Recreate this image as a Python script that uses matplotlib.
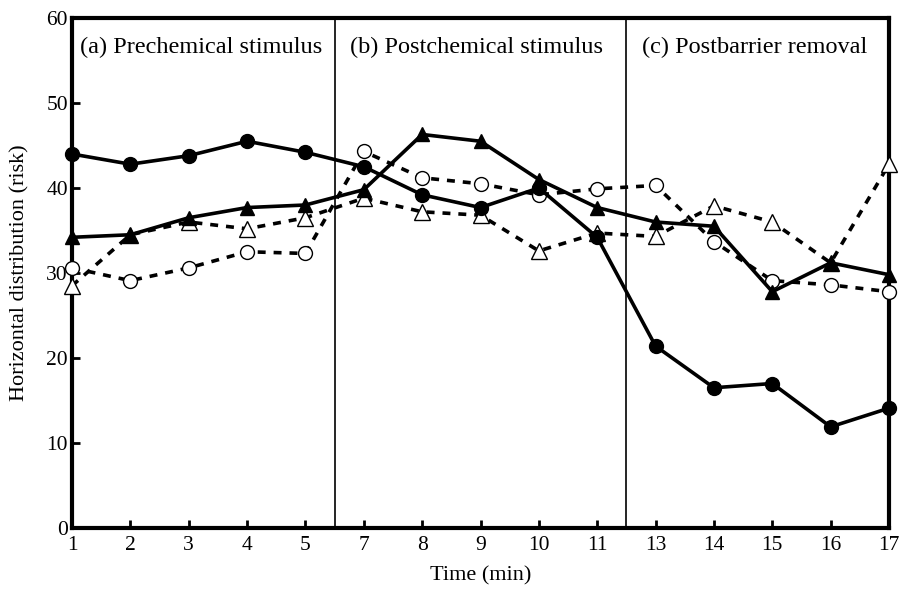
import matplotlib.pyplot as plt

plt.rcParams['font.family'] = ['Liberation Serif', 'DejaVu Serif']

minutes = [1, 2, 3, 4, 5, 7, 8, 9, 10, 11, 13, 14, 15, 16, 17]
filled_circle = [44.0, 42.8, 43.8, 45.5, 44.2, 42.5, 39.2, 37.7, 40.0, 34.2, 21.4, 16.5, 17.0, 11.9, 14.1]
filled_tri = [34.2, 34.5, 36.5, 37.7, 38.0, 39.8, 46.3, 45.5, 41.0, 37.7, 36.0, 35.5, 27.8, 31.2, 29.8]
open_circle = [30.6, 29.1, 30.6, 32.5, 32.3, 44.3, 41.2, 40.5, 39.2, 39.9, 40.3, 33.7, 29.1, 28.6, 27.8]
open_tri = [28.5, 34.5, 36.0, 35.2, 36.5, 38.8, 37.2, 36.8, 32.6, 34.7, 34.3, 37.9, 36.0, 31.2, 42.8]
phases = ['(a) Prechemical stimulus', '(b) Postchemical stimulus', '(c) Postbarrier removal']

x = list(range(len(minutes)))

fig = plt.figure(figsize=(9.01, 5.92), dpi=100)
ax = fig.add_axes([72/901, 1 - 528/592, 817/901, 510/592])

dash = (0, (2.2, 2.2))
ax.plot(x, open_circle, color='black', lw=2.6, ls=dash, marker='o', ms=10,
        mfc='white', mec='black', mew=1.0, clip_on=False, zorder=3)
ax.plot(x, open_tri, color='black', lw=2.6, ls=dash, marker='^', ms=11,
        mfc='white', mec='black', mew=1.0, clip_on=False, zorder=3)
ax.plot(x, filled_tri, color='black', lw=2.6, marker='^', ms=10,
        mfc='black', mec='black', clip_on=False, zorder=4)
ax.plot(x, filled_circle, color='black', lw=2.6, marker='o', ms=10,
        mfc='black', mec='black', clip_on=False, zorder=4)

# phase boundaries between 5|7 and 11|13
ax.axvline(4.5, color='black', lw=1.2)
ax.axvline(9.5, color='black', lw=1.2)

for xp, txt in zip([0.13, 4.76, 9.76], phases):
    ax.text(xp, 56.5, txt, fontsize=17.5, va='center', ha='left')

ax.set_xlim(0, len(minutes) - 1)
ax.set_ylim(0, 60)
ax.set_xticks(x)
ax.set_xticklabels([str(m) for m in minutes])
ax.set_yticks([0, 10, 20, 30, 40, 50, 60])
ax.tick_params(direction='in', length=6, width=2, labelsize=15.5)
ax.tick_params(axis='x', pad=6)
ax.tick_params(axis='y', pad=3)
for s in ax.spines.values():
    s.set_linewidth(3)

ax.set_xlabel('Time (min)', fontsize=16, labelpad=8)
ax.set_ylabel('Horizontal distribution (risk)', fontsize=16, labelpad=12)

fig.savefig('out.png', dpi=100)
